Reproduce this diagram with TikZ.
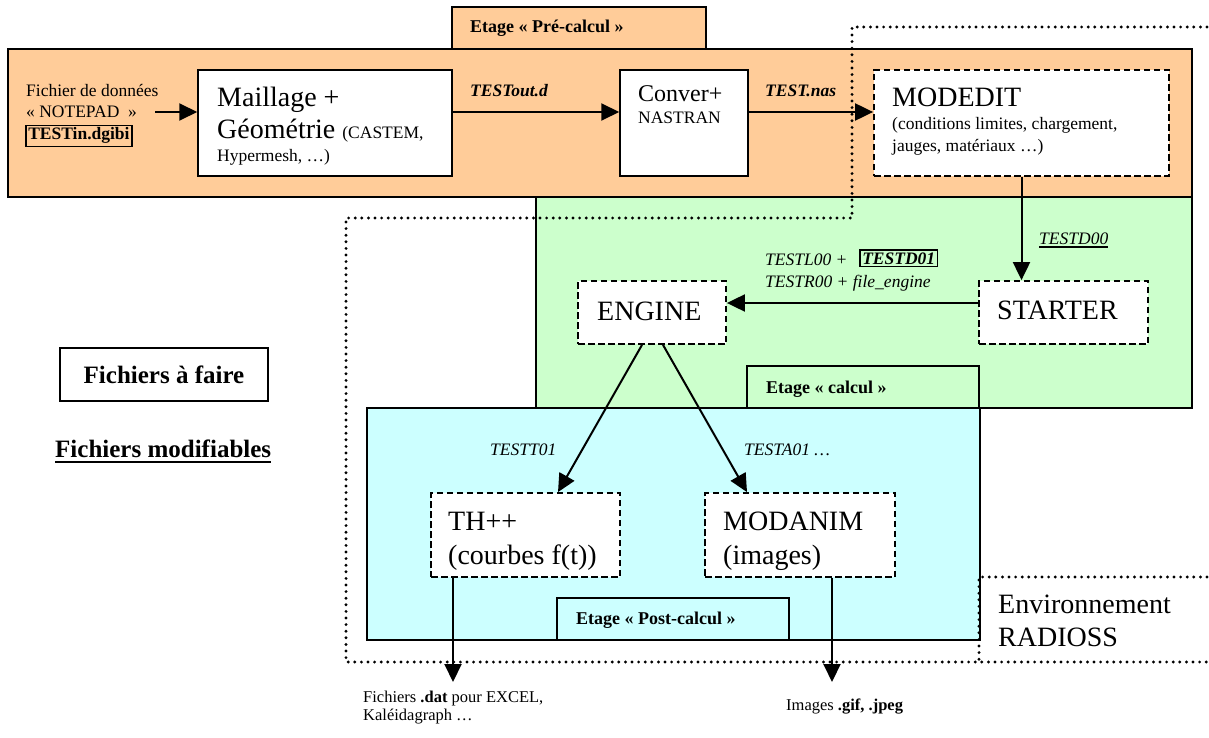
\documentclass[tikz,border=0pt]{standalone}
\usepackage{fontspec}
\setmainfont{Liberation Serif}
\usetikzlibrary{arrows.meta,calc}
\definecolor{preC}{HTML}{FFCC99}
\definecolor{calC}{HTML}{CCFFCC}
\definecolor{postC}{HTML}{CCFFFF}
\newcommand\myfs[1]{\fontsize{#1}{#1}\selectfont}
\begin{document}
\begin{tikzpicture}[x=1pt,y=-1pt,
  txt/.style={inner sep=0pt, anchor=base west, font=\myfs{17.5}},
  big/.style={inner sep=0pt, anchor=base west, font=\myfs{28}},
  lab/.style={inner sep=0pt, anchor=base west, font=\myfs{17.5}\itshape},
  tabtxt/.style={inner sep=0pt, anchor=base west, font=\myfs{18}\bfseries},
  stage/.style={draw=black, line width=1.4pt},
  solidbox/.style={draw, fill=white, line width=1.5pt, inner sep=0pt},
  dashbox/.style={draw, fill=white, line width=1.8pt, dash pattern=on 6.5pt off 3.5pt, inner sep=0pt},
  conn/.style={line width=2pt, -{Triangle[length=18pt,width=17pt]}},
  envline/.style={line width=3.2pt, line cap=round, dash pattern=on 0pt off 6.6pt},
]
\useasboundingbox (0,0) rectangle (1209,738);

% stages
\filldraw[stage, fill=preC] (8,49) rectangle (1192,197);
\filldraw[stage, fill=preC] (452,7) rectangle (706,49);
\filldraw[stage, fill=calC] (536,197) rectangle (1192,408);
\draw[stage] (747,408) -- (747,366) -- (979,366) -- (979,408);
\filldraw[stage, fill=postC] (367,408) rectangle (980,640);
\draw[stage] (557,640) -- (557,598) -- (789,598) -- (789,640);

\node[tabtxt] (tabpre) at (470,33) {Etage «~Pré-calcul~»};
\node[tabtxt] (tabcal) at (766,393) {Etage «~calcul~»};
\node[tabtxt] (tabpost) at (576,624) {Etage «~Post-calcul~»};

% boxes
\node[solidbox, minimum width=254pt, minimum height=106pt] (maill) at (325,123) {};
\node[solidbox, minimum width=128pt, minimum height=106pt] (conver) at (684,123) {};
\node[dashbox, minimum width=295pt, minimum height=106pt] (modedit) at (1021.5,123) {};
\node[dashbox, minimum width=169pt, minimum height=63pt] (starter) at (1063.5,312.5) {};
\node[dashbox, minimum width=148pt, minimum height=63pt] (engine) at (652,312.5) {};
\node[dashbox, minimum width=189pt, minimum height=84pt] (thpp) at (525.5,535) {};
\node[dashbox, minimum width=190pt, minimum height=84pt] (modanim) at (800,535) {};
\node[draw, line width=1.5pt, minimum width=208pt, minimum height=53pt, inner sep=0pt, font=\myfs{25}\bfseries] (faire) at (164,374.5) {Fichiers à faire};

% coordinates
\coordinate (rowA) at (0,112);
\coordinate (rowB) at (0,303);
\coordinate (inA) at (155,112);
\coordinate (outA) at (453,682);
\coordinate (outB) at (832,682);

% connectors
\draw[conn] (inA) -- (maill.west |- rowA);
\draw[conn] (maill.east |- rowA) -- (conver.west |- rowA);
\draw[conn] (conver.east |- rowA) -- (modedit.west |- rowA);
\draw[conn] (modedit.south) -- (modedit.south |- starter.north);
\draw[conn] (starter.west |- rowB) -- (engine.east |- rowB);
\draw[conn] ($(engine.south)+(-10,0)$) -- ($(thpp.north)+(32.5,0)$);
\draw[conn] ($(engine.south)+(11,0)$) -- ($(modanim.north)+(-53,0)$);
\draw[conn] (thpp.south -| outA) -- (outA);
\draw[conn] (modanim.south -| outB) -- (outB);

% texts
\node[txt] (fd1) at (26,97) {Fichier de données};
\node[txt] (fd2) at (26,118) {«~NOTEPAD~~»};
\node[txt, draw, line width=1.5pt, inner xsep=2.5pt, inner ysep=2.5pt, font=\myfs{17.5}\bfseries] (testin) at (25,140) {TESTin.dgibi};

\node[big] (m1) at (217,107) {Maillage +};
\node[big] (m2) at (217,139) {Géométrie {\myfs{17.5}(CASTEM,}};
\node[txt] (m3) at (217,162) {Hypermesh, …)};

\node[txt, font=\myfs{17.5}\bfseries\itshape] (tout) at (470,97) {TESTout.d};
\node[txt, font=\myfs{17.5}\bfseries\itshape] (tnas) at (765,97) {TEST.nas};

\node[txt, font=\myfs{24}] (c1) at (638,102) {Conver+};
\node[txt] (c2) at (638,124) {NASTRAN};

\node[big] (me1) at (892,107) {MODEDIT};
\node[txt] (me2) at (892,130) {(conditions limites, chargement,};
\node[txt] (me3) at (892,152) {jauges, matériaux …)};

\node[lab] (td00) at (1039,244) {TESTD00};
\draw[line width=1.2pt] ([yshift=-3pt]td00.base west) -- ([yshift=-3pt]td00.base east);

\node[big] (st) at (997,319) {STARTER};
\node[big] (en) at (597,320) {ENGINE};

\node[lab] (tl00) at (765,265) {TESTL00 +};
\node[txt, draw, line width=1.5pt, inner xsep=2.5pt, inner ysep=2.5pt, font=\myfs{17.5}\bfseries\itshape] (td01) at (859,264) {TESTD01};
\node[lab] (tr00) at (765,287) {TESTR00 + file\_engine};

\node[lab] (tt01) at (490,455) {TESTT01};
\node[lab] (ta01) at (744,455) {TESTA01 …};

\node[big] (th1) at (448,530) {TH++};
\node[big] (th2) at (448,564) {(courbes f(t))};
\node[big] (ma1) at (723,530) {MODANIM};
\node[big] (ma2) at (723,564) {(images)};

\node[big] (env1) at (998,613) {Environnement};
\node[big] (env2) at (998,646) {RADIOSS};

\node[txt, font=\myfs{16.5}] (dat1) at (363,702) {Fichiers \textbf{.dat} pour EXCEL,};
\node[txt, font=\myfs{16.5}] (dat2) at (363,720) {Kaléidagraph …};
\node[txt, font=\myfs{16.5}] (img) at (786,710) {Images \textbf{.gif, .jpeg}};

\node[txt, font=\myfs{25}\bfseries] (modif) at (55,457) {Fichiers modifiables};
\draw[line width=2pt] ([yshift=-5pt]modif.base west) -- ([yshift=-5pt]modif.base east);

% environment boundary
\draw[envline] (1207,27) -- (852,27) -- (852,218) -- (346,218) -- (346,662) -- (1207,662);
\draw[envline] (1207,577) -- (979,577) -- (979,662);
\end{tikzpicture}
\end{document}
